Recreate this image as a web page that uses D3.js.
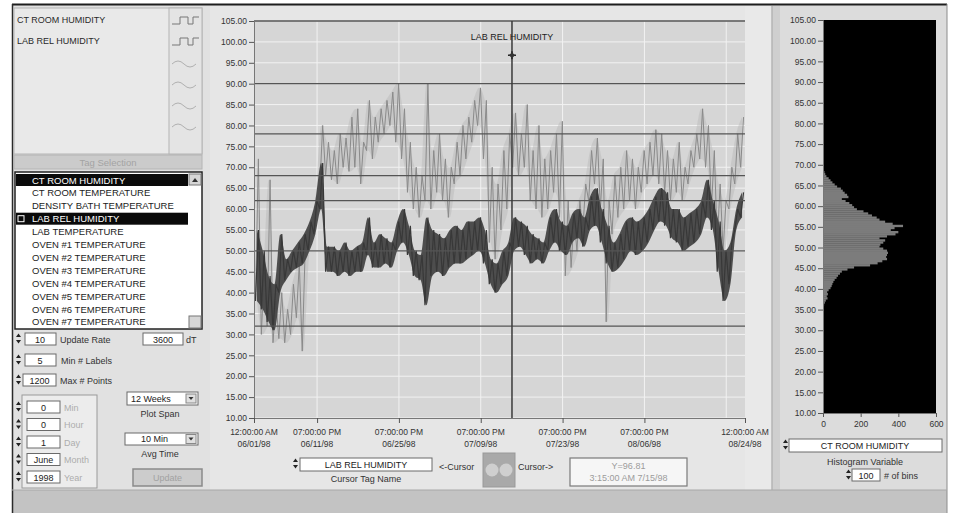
<!DOCTYPE html>
<html>
<head>
<meta charset="utf-8">
<script src="https://cdn.jsdelivr.net/npm/d3@7/dist/d3.min.js"></script>
<style>
body { margin: 0; background: #ffffff; }
svg { display: block; font-family: "Liberation Sans", Arial, sans-serif; }
</style>
</head>
<body>
<svg id="panel" width="956" height="513"></svg>
<script>
// ---- data ----
var startDate = new Date(1998, 5, 1, 0, 0, 0);
var endDate = new Date(1998, 7, 24, 0, 0, 0);
var tickDates = [new Date(1998,5,1,0), new Date(1998,5,11,19), new Date(1998,5,25,19),
                 new Date(1998,6,9,19), new Date(1998,6,23,19), new Date(1998,7,6,19),
                 new Date(1998,7,24,0)];
var gridDates = [new Date(1998,5,11,19), new Date(1998,5,25,19), new Date(1998,6,9,19),
                 new Date(1998,6,23,19), new Date(1998,7,6,19), new Date(1998,7,20,19)];
var yTicks = [10,15,20,25,30,35,40,45,50,55,60,65,70,75,80,85,90,95,100,105];
var limitValues = [105, 90, 78, 68, 62, 50, 32];

// daily [low, high] readings, 06/01/98 .. 08/23/98
var ctRoomHumidity = [
  [38,55],[36,50],[33,44],[31,42],[40,54],[43,48],[45,50],
  [46,52],[47,54],[50,57],[54,62],[60,71],[45,51],[45,51],
  [44,50],[45,52],[44,50],[45,51],[45,52],[49,58],[46,52],
  [46,54],[47,53],[46,52],[50,57],[52,60],[49,56],[44,50],
  [43,49],[37,58],[44,55],[45,54],[44,53],[46,55],[47,56],
  [47,55],[48,57],[49,57],[50,58],[47,55],[42,48],[40,47],
  [42,50],[44,52],[50,58],[51,57],[49,56],[47,54],[48,53],
  [47,52],[50,58],[52,60],[50,57],[49,56],[52,59],[53,60],
  [51,58],[55,63],[56,65],[52,60],[47,56],[45,52],[46,54],
  [48,57],[50,58],[49,57],[50,58],[52,60],[55,63],[57,65],
  [56,64],[53,60],[52,60],[50,58],[51,59],[52,60],[54,62],
  [58,67],[55,62],[45,57],[38,50],[42,52],[55,60],[58,64]
];
var labRelHumidity = [
  [38,72],[30,45],[32,67],[28,38],[29,40],[28,36],[30,42],
  [34,47],[26,50],[50,56],[55,62],[65,80],[68,76],[67,74],
  [66,78],[70,77],[69,82],[70,84],[66,76],[74,86],[72,82],
  [76,84],[78,86],[80,88],[76,90],[72,84],[64,76],[60,70],
  [58,68],[62,90],[60,74],[64,78],[62,72],[58,70],[66,76],
  [68,80],[72,82],[76,86],[80,89],[72,86],[52,70],[48,66],
  [55,74],[60,78],[70,83],[68,78],[70,85],[62,74],[60,80],
  [58,72],[60,74],[64,78],[58,81],[44,62],[46,58],[50,62],
  [55,66],[62,74],[66,77],[60,72],[33,62],[54,68],[58,70],
  [60,74],[62,72],[60,70],[64,74],[66,76],[68,79],[66,78],
  [64,74],[62,72],[64,76],[62,70],[66,74],[70,78],[72,84],
  [70,80],[60,74],[52,66],[50,62],[60,70],[66,78],[70,82]
];

var cursorDate = new Date(1998, 6, 15, 3, 15, 0);
var cursorValue = 96.81;

// histogram of CT ROOM HUMIDITY (bin lower edge, count)
var histBins = [35.5,36,36.5,37,37.5,38,38.5,39,39.5,40,40.5,41,41.5,42,42.5,43,43.5,44,44.5,45,
                45.5,46,46.5,47,47.5,48,48.5,49,49.5,50,50.5,51,51.5,52,52.5,53,53.5,54,54.5,55,
                55.5,56,56.5,57,57.5,58,58.5,59,59.5,60,60.5,61,61.5,62,62.5,63,63.5,64,64.5,65,
                65.5,66,66.5,67,67.5,68,68.5];
var histCounts = [3,6,10,15,24,20,26,22,30,40,46,50,55,62,72,80,90,100,130,165,
                  250,290,315,340,335,340,345,340,320,300,305,320,330,300,340,385,400,360,380,425,
                  370,330,300,285,260,240,215,180,165,155,140,120,100,135,128,115,105,95,75,62,
                  50,40,30,18,12,8,4];
var histTicks = [0, 200, 400, 600];

var legendNames = ["CT ROOM HUMIDITY", "LAB REL HUMIDITY"];
var tagNames = ["CT ROOM HUMIDITY", "CT ROOM TEMPERATURE", "DENSITY BATH TEMPERATURE",
                "LAB REL HUMIDITY", "LAB TEMPERATURE", "OVEN #1 TEMPERATURE",
                "OVEN #2 TEMPERATURE", "OVEN #3 TEMPERATURE", "OVEN #4 TEMPERATURE",
                "OVEN #5 TEMPERATURE", "OVEN #6 TEMPERATURE", "OVEN #7 TEMPERATURE"];
var selectedTags = ["CT ROOM HUMIDITY", "LAB REL HUMIDITY"];
var dateFields = [["0","Min"],["0","Hour"],["1","Day"],["June","Month"],["1998","Year"]];

// ---- helpers ----
var svg = d3.select('#panel');
var DAY = 86400000;

function readings(pairs) {
  var out = [];
  pairs.forEach(function(p, i) {
    out.push({t: new Date(startDate.getTime() + i*DAY + 0.25*DAY), v: p[0]});
    out.push({t: new Date(startDate.getTime() + i*DAY + 0.75*DAY), v: p[1]});
  });
  return out;
}
function bands(pairs) {
  return pairs.map(function(p, i) {
    return {t: new Date(startDate.getTime() + i*DAY + 0.5*DAY), lo: p[0], hi: p[1]};
  });
}
function rect(g, x, y, w, h, fill, stroke, sw) {
  return g.append('rect').attr('x', x).attr('y', y).attr('width', w).attr('height', h)
    .attr('fill', fill).attr('stroke', stroke || 'none').attr('stroke-width', sw || 1);
}
function text(g, x, y, s, size, color, anchor) {
  return g.append('text').attr('x', x).attr('y', y).text(s)
    .attr('font-size', size || 9).attr('fill', color || '#222')
    .attr('text-anchor', anchor || 'start');
}
function spinner(g, x, y) {
  g.append('path').attr('d', 'M' + x + ',' + (y+4) + 'l2.5,-3.5l2.5,3.5z').attr('fill', '#222');
  g.append('path').attr('d', 'M' + x + ',' + (y+7) + 'l2.5,3.5l2.5,-3.5z').attr('fill', '#222');
}
function inbox(g, x, y, w, h) {
  rect(g, x, y, w, h, '#ffffff', '#6a6a6a', 1);
}

// ---- panel background ----
rect(svg, 12, 4, 935, 509, '#e1e1e1');
rect(svg, 210, 6, 562, 484, '#e6e6e6');
rect(svg, 745, 6, 28, 484, '#e9e9e9');
rect(svg, 772, 6, 175, 484, '#dcdcdc');
rect(svg, 773, 6, 7, 484, '#cfcfcf');
rect(svg, 12, 490, 935, 23, '#c3c3c3');
svg.append('line').attr('x1', 12).attr('x2', 947).attr('y1', 4.5).attr('y2', 4.5).attr('stroke', '#1e1e1e').attr('stroke-width', 2);
svg.append('line').attr('x1', 12.5).attr('x2', 12.5).attr('y1', 4).attr('y2', 513).attr('stroke', '#2a2a2a').attr('stroke-width', 1.5);
svg.append('line').attr('x1', 947).attr('x2', 947).attr('y1', 4).attr('y2', 513).attr('stroke', '#8c8c8c');
svg.append('line').attr('x1', 772).attr('x2', 772).attr('y1', 6).attr('y2', 490).attr('stroke', '#9a9a9a');
svg.append('line').attr('x1', 12).attr('x2', 947).attr('y1', 490).attr('y2', 490).attr('stroke', '#a8a8a8');

// ---- legend box ----
var leg = svg.append('g');
rect(leg, 14, 8, 188, 146, '#e9e9e9', '#b4b4b4');
rect(leg, 169, 8, 33, 146, '#e4e4e4', '#b4b4b4');
legendNames.forEach(function(n, i) {
  text(leg, 17, 23 + i*21, n, 9, '#2a2a2a');
});
[0,1,2,3,4,5].forEach(function(i) {
  var yy = 20 + i*21;
  if (i < 2) {
    leg.append('path').attr('d', 'M172,' + (yy+4) + 'h8v-7h8v7h5v-7h6')
      .attr('fill', 'none').attr('stroke', '#777').attr('stroke-width', 1);
  } else {
    leg.append('path').attr('d', 'M172,' + (yy+2) + 'q6,-6 12,0t12,0')
      .attr('fill', 'none').attr('stroke', '#b0b0b0').attr('stroke-width', 1);
  }
});

// ---- tag selection list ----
var tg = svg.append('g');
rect(tg, 14, 155, 188, 14, '#cbcbcb', '#b4b4b4');
text(tg, 108, 165.5, 'Tag Selection', 9.5, '#a3a3a3', 'middle');
rect(tg, 15, 172, 187, 157, '#ffffff', '#222', 1.5);
tagNames.forEach(function(n, i) {
  var yy = 174 + i*12.9;
  var sel = selectedTags.indexOf(n) >= 0;
  if (sel) rect(tg, 16, yy, 172, 12, '#0a0a0a');
  if (sel && i > 0) rect(tg, 18, yy + 3, 6, 6, 'none', '#ffffff', 1);
  text(tg, 32, yy + 9.5, n, 9.5, sel ? '#ffffff' : '#1c1c1c');
});
rect(tg, 189, 174, 12, 11, '#d6d6d6', '#777');
tg.append('path').attr('d', 'M192,182l3,-4l3,4z').attr('fill', '#333');
rect(tg, 189, 316, 12, 12, '#d6d6d6', '#777');

// ---- numeric controls ----
var ct = svg.append('g');
spinner(ct, 16, 333); inbox(ct, 25, 333, 31, 12); text(ct, 40, 342.5, '10', 9, '#222', 'middle');
text(ct, 60, 342.5, 'Update Rate', 9, '#333');
inbox(ct, 143, 333, 40, 12); text(ct, 163, 342.5, '3600', 9, '#222', 'middle');
text(ct, 186, 342.5, 'dT', 9, '#333');
spinner(ct, 16, 354); inbox(ct, 25, 354, 31, 12); text(ct, 40, 363.5, '5', 9, '#222', 'middle');
text(ct, 61, 363.5, 'Min # Labels', 9, '#333');
spinner(ct, 16, 374); inbox(ct, 23, 374, 33, 12); text(ct, 39.5, 383.5, '1200', 9, '#222', 'middle');
text(ct, 60, 383.5, 'Max # Points', 9, '#333');

rect(ct, 22, 395, 75, 93, '#ececec', '#9a9a9a');
dateFields.forEach(function(f, i) {
  var yy = 401 + i*17.5;
  spinner(ct, 16, yy);
  inbox(ct, 27, yy, 33, 12);
  text(ct, 43.5, yy + 9.5, f[0], 9, '#222', 'middle');
  text(ct, 64, yy + 9.5, f[1], 9, '#adadad');
});

inbox(ct, 127, 392, 71, 13); text(ct, 131, 401.5, '12 Weeks', 9, '#222');
rect(ct, 186, 394, 10, 9, '#e0e0e0', '#888'); ct.append('path').attr('d', 'M188.5,397l2.5,3l2.5,-3z').attr('fill', '#333');
text(ct, 160, 417, 'Plot Span', 9, '#333', 'middle');
inbox(ct, 125, 433, 73, 12); text(ct, 141, 442, '10 Min', 9, '#222');
rect(ct, 186, 434.5, 10, 9, '#e0e0e0', '#888'); ct.append('path').attr('d', 'M188.5,437.5l2.5,3l2.5,-3z').attr('fill', '#333');
text(ct, 160, 457, 'Avg Time', 9, '#333', 'middle');
rect(ct, 133, 469, 69, 17, '#cccccc', '#8a8a8a', 1.5);
text(ct, 167.5, 481, 'Update', 9, '#a2a2a2', 'middle');

// ---- main strip chart ----
var x = d3.scaleTime().domain([startDate, endDate]).range([254, 745]);
var y = d3.scaleLinear().domain([10, 105]).range([418, 21]);
var plot = svg.append('g');
rect(plot, 254, 21, 491, 397, '#d6d6d6');

plot.append('g').selectAll('line.hg').data(yTicks).enter().append('line')
  .attr('x1', 254).attr('x2', 745).attr('y1', function(d) { return y(d); }).attr('y2', function(d) { return y(d); })
  .attr('stroke', '#f2f2f2').attr('stroke-width', 1);
plot.append('g').selectAll('line.vg').data(gridDates).enter().append('line')
  .attr('x1', function(d) { return x(d); }).attr('x2', function(d) { return x(d); })
  .attr('y1', 21).attr('y2', 418).attr('stroke', '#f2f2f2').attr('stroke-width', 1);

svg.append('clipPath').attr('id', 'plotClip').append('rect')
  .attr('x', 254).attr('y', 21).attr('width', 491).attr('height', 397);

var line = d3.line().x(function(d) { return x(d.t); }).y(function(d) { return y(d.v); });
var area = d3.area().x(function(d) { return x(d.t); })
  .y0(function(d) { return y(d.lo); }).y1(function(d) { return y(d.hi); })
  .curve(d3.curveMonotoneX);
var series = plot.append('g').attr('clip-path', 'url(#plotClip)');
series.append('path').datum(bands(labRelHumidity)).attr('d', area)
  .attr('fill', '#b4b4b4').attr('fill-opacity', 0.4);
series.append('path').datum(readings(labRelHumidity)).attr('d', line)
  .attr('fill', 'none').attr('stroke', '#8a8a8a').attr('stroke-width', 1);
series.append('path').datum(bands(ctRoomHumidity)).attr('d', area)
  .attr('fill', '#464646').attr('fill-opacity', 0.95);
series.append('path').datum(readings(ctRoomHumidity)).attr('d', line)
  .attr('fill', 'none').attr('stroke', '#383838').attr('stroke-width', 1.2);

plot.append('g').selectAll('line').data(limitValues).enter().append('line')
  .attr('x1', 254).attr('x2', 745).attr('y1', function(d) { return y(d); }).attr('y2', function(d) { return y(d); })
  .attr('stroke', '#555').attr('stroke-width', 1.3);

// axes
var yAxis = plot.append('g').attr('transform', 'translate(254,0)')
  .call(d3.axisLeft(y).tickValues(yTicks).tickSize(5).tickPadding(2).tickFormat(d3.format('.2f')));
yAxis.selectAll('text').attr('font-size', 8.5).attr('fill', '#333').attr('font-family', '"Liberation Sans", Arial, sans-serif');
yAxis.selectAll('line').attr('stroke', '#555');
yAxis.select('.domain').attr('stroke', '#777');

var fmtTime = d3.timeFormat('%I:%M:%S %p');
var fmtDay = d3.timeFormat('%m/%d/%y');
var xAxis = plot.append('g').attr('transform', 'translate(0,418)')
  .call(d3.axisBottom(x).tickValues(tickDates).tickSize(5).tickFormat(''));
xAxis.select('.domain').attr('stroke', '#777');
xAxis.selectAll('line').attr('stroke', '#555');
var xl = plot.append('g').selectAll('g').data(tickDates).enter().append('g')
  .attr('transform', function(d) { return 'translate(' + x(d) + ',0)'; });
xl.append('text').attr('y', 435).attr('text-anchor', 'middle').attr('font-size', 8.5).attr('fill', '#333')
  .text(function(d) { return fmtTime(d); });
xl.append('text').attr('y', 447).attr('text-anchor', 'middle').attr('font-size', 8.5).attr('fill', '#333')
  .text(function(d) { return fmtDay(d); });

// cursor
var cx = x(cursorDate), cy = y(cursorValue);
plot.append('line').attr('x1', cx).attr('x2', cx).attr('y1', 21).attr('y2', 418)
  .attr('stroke', '#3a3a3a').attr('stroke-width', 1.5);
plot.append('path').attr('d', 'M' + (cx-4) + ',' + cy + 'h8M' + cx + ',' + (cy-4) + 'v8')
  .attr('stroke', '#222').attr('stroke-width', 1.5);
plot.append('path').attr('d', 'M' + cx + ',' + (cy-3) + 'l3,3l-3,3l-3,-3z').attr('fill', '#333');
text(plot, cx, 40, 'LAB REL HUMIDITY', 9, '#222', 'middle');

// cursor controls under the chart
var cc = svg.append('g');
spinner(cc, 293, 458);
inbox(cc, 300, 458, 132, 13);
text(cc, 366, 468, 'LAB REL HUMIDITY', 9, '#222', 'middle');
text(cc, 366, 482, 'Cursor Tag Name', 9, '#333', 'middle');
text(cc, 439, 470, '<-Cursor', 9, '#333');
rect(cc, 483, 453, 32, 34, '#a9a9a9', '#999');
cc.append('circle').attr('cx', 492).attr('cy', 470).attr('r', 6.5).attr('fill', '#cfcfcf');
cc.append('circle').attr('cx', 506).attr('cy', 470).attr('r', 6.5).attr('fill', '#cfcfcf');
text(cc, 518, 470, 'Cursor->', 9, '#333');
rect(cc, 570, 458, 117, 28, '#f6f6f6', '#7a7a7a', 1.2);
text(cc, 628.5, 469, 'Y=' + cursorValue.toFixed(2), 9, '#9c9c9c', 'middle');
text(cc, 628.5, 481, d3.timeFormat('%-I:%M:%S %p %-m/%-d/%y')(cursorDate), 9, '#9c9c9c', 'middle');

// ---- histogram ----
var hy = d3.scaleLinear().domain([10, 105]).range([413, 20]);
var hx = d3.scaleLinear().domain([0, 600]).range([823, 936]);
var hist = svg.append('g');
rect(hist, 823, 20, 113, 393, '#000000');
hist.append('g').selectAll('rect').data(histBins).enter().append('rect')
  .attr('x', 823)
  .attr('y', function(d) { return hy(d + 0.5); })
  .attr('width', function(d, i) { return hx(histCounts[i]) - 823; })
  .attr('height', function(d) { return hy(d) - hy(d + 0.5) + 0.3; })
  .attr('fill', '#7c7c7c');
var hyAxis = hist.append('g').attr('transform', 'translate(823,0)')
  .call(d3.axisLeft(hy).tickValues(yTicks).tickSize(5).tickPadding(2).tickFormat(d3.format('.2f')));
hyAxis.selectAll('text').attr('font-size', 8.5).attr('fill', '#333').attr('font-family', '"Liberation Sans", Arial, sans-serif');
hyAxis.selectAll('line').attr('stroke', '#555');
hyAxis.select('.domain').attr('stroke', '#777');
var hxAxis = hist.append('g').attr('transform', 'translate(0,413)')
  .call(d3.axisBottom(hx).tickValues(histTicks).tickSize(4).tickPadding(4));
hxAxis.selectAll('text').attr('font-size', 8.5).attr('fill', '#333').attr('font-family', '"Liberation Sans", Arial, sans-serif');
hxAxis.selectAll('line').attr('stroke', '#555');
hxAxis.select('.domain').attr('stroke', '#777');

spinner(hist, 783, 439);
inbox(hist, 789, 439, 153, 13);
text(hist, 865, 449, 'CT ROOM HUMIDITY', 9, '#222', 'middle');
text(hist, 865, 465, 'Histogram Variable', 9, '#333', 'middle');
spinner(hist, 846, 469);
inbox(hist, 852, 469, 28, 12);
text(hist, 866, 478.5, '100', 9, '#222', 'middle');
text(hist, 884, 478.5, '# of bins', 9, '#333');
</script>
</body>
</html>
